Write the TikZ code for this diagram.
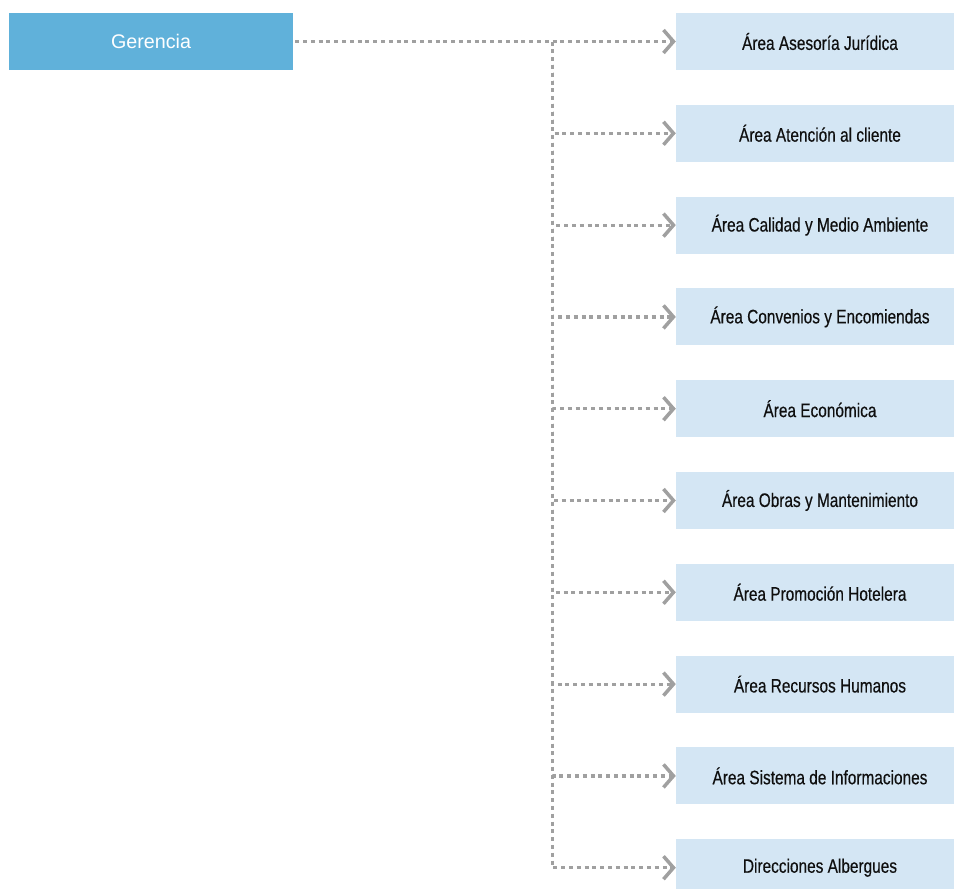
\documentclass[tikz,border=0pt]{standalone}
\usepackage{fontspec}
\setmainfont{Liberation Sans}
\newfontfamily\narrowfont[FakeStretch=0.79, FakeBold=0.4]{Liberation Sans}
\usepackage{tikz}
\usetikzlibrary{arrows.meta, positioning}
\definecolor{gerblue}{RGB}{96, 177, 218}
\definecolor{arealight}{RGB}{212, 230, 244}
\definecolor{linegray}{RGB}{160, 160, 160}
\definecolor{textdark}{RGB}{15, 15, 15}
\tikzset{
  gerbox/.style={rectangle, fill=gerblue, text=white, minimum width=284pt,
              minimum height=57pt, inner sep=0pt,
              font=\fontsize{19.7}{24}\selectfont},
  areabox/.style={rectangle, fill=arealight, text=textdark, minimum width=278pt,
              minimum height=57pt, inner sep=0pt,
              execute at begin node=\hspace*{10pt},
              font=\narrowfont\fontsize{19.5}{24}\selectfont},
  dotarrow/.style={-{Straight Barb[length=10pt, width=23pt, line width=3.5pt]},
              line width=3.2pt, color=linegray, dash pattern=on 4pt off 3.8pt},
}
\begin{document}
\begin{tikzpicture}[x=1pt, y=-1pt, node distance=34.4pt]
  \useasboundingbox (0,0) rectangle (954,889);
  \node[gerbox] (gerencia) at (151,41.5) {Gerencia};
  \node[areabox] (juridica) at (815,41.5) {Área Asesoría Jurídica};
  \node[areabox, below=of juridica] (cliente) {Área Atención al cliente};
  \node[areabox, below=of cliente] (calidad) {Área Calidad y Medio Ambiente};
  \node[areabox, below=of calidad] (convenios) {Área Convenios y Encomiendas};
  \node[areabox, below=of convenios] (economica) {Área Económica};
  \node[areabox, below=of economica] (obras) {Área Obras y Mantenimiento};
  \node[areabox, below=of obras] (promocion) {Área Promoción Hotelera};
  \node[areabox, below=of promocion] (rrhh) {Área Recursos Humanos};
  \node[areabox, below=of rrhh] (sistema) {Área Sistema de Informaciones};
  \node[areabox, below=of sistema] (albergues) {Direcciones Albergues};

  \coordinate (trunk) at (552.7,41.5);

  \draw[dotarrow, shorten <=2pt] (gerencia.east) -- (juridica.west);
  \draw[dotarrow] (trunk) |- (cliente.west);
  \draw[dotarrow] (trunk) |- (calidad.west);
  \draw[dotarrow] (trunk) |- (convenios.west);
  \draw[dotarrow] (trunk) |- (economica.west);
  \draw[dotarrow] (trunk) |- (obras.west);
  \draw[dotarrow] (trunk) |- (promocion.west);
  \draw[dotarrow] (trunk) |- (rrhh.west);
  \draw[dotarrow] (trunk) |- (sistema.west);
  \draw[dotarrow] (trunk) |- (albergues.west);
\end{tikzpicture}
\end{document}
